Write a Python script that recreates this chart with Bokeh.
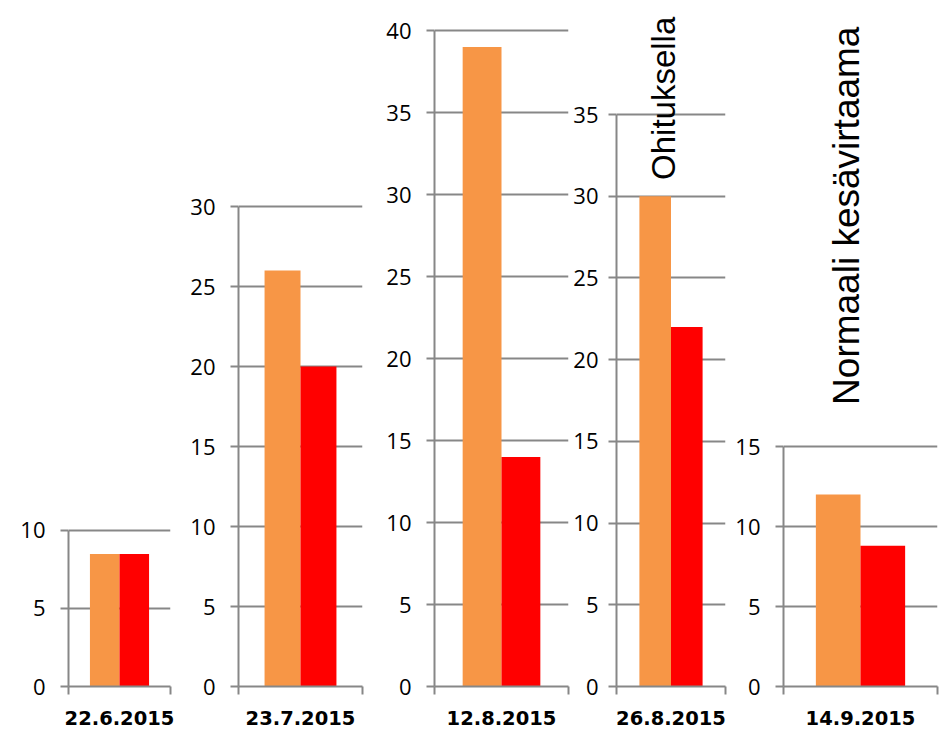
from bokeh.plotting import figure
from bokeh.models import Range1d, FixedTicker, ColumnDataSource
from bokeh.layouts import row
from bokeh.embed import file_html
from bokeh.resources import INLINE
from bokeh.core.properties import value
import math

# ---- data ----
dates = ["22.6.2015", "23.7.2015", "12.8.2015", "26.8.2015", "14.9.2015"]
series = ["sarja 1", "sarja 2"]
orange_vals = [8.5, 26, 39, 30, 12]
red_vals = [8.5, 20, 14, 22, 8.8]
axis_max = [10, 30, 40, 35, 15]
notes = ["", "", "", "Ohituksella", "Normaali kesävirtaama"]
note_y = [None, None, None, 31, 17.6]

# ---- styling / layout ----
colors = ["#F79646", "#FF0000"]
GRAY = "#878787"
view_top = [43.33, 42.25, 41.22, 41.37, 42.25]
border_left = [68, 62, 70, 44, 56]
border_right = [6, 2, 2, 2, 2]
frame_w = [102, 124, 134, 111, 154]
label_standoff = [15, 15, 15, 10, 15]
note_size = [None, None, None, "33px", "37px"]
PAD = 0.725
H = 734

slots = [k + 0.5 for k in range(len(series))]   # category slot centres
x_lo, x_hi = -PAD, len(series) + PAD

figs = []
for i, d in enumerate(dates):
    p = figure(
        width=border_left[i] + frame_w[i] + border_right[i], height=H,
        x_range=Range1d(x_lo, x_hi),
        y_range=Range1d(0, view_top[i]),
        x_axis_location="below", y_axis_location="left",
        title=None, toolbar_location=None, output_backend="svg",
        min_border_left=border_left[i], min_border_right=border_right[i],
        min_border_top=10, min_border_bottom=48,
    )
    p.outline_line_color = None
    p.background_fill_color = "white"
    p.border_fill_color = "white"

    src = ColumnDataSource(dict(x=slots, s=series,
                                v=[orange_vals[i], red_vals[i]], c=colors))
    p.vbar(x="x", top="v", width=1.0, fill_color="c", line_color=None, source=src)

    # y axis
    ya = p.yaxis[0]
    ya.ticker = FixedTicker(ticks=list(range(0, axis_max[i] + 1, 5)))
    ya.bounds = (0, axis_max[i])
    ya.axis_line_color = GRAY
    ya.axis_line_width = 2
    ya.major_tick_line_color = GRAY
    ya.major_tick_line_width = 2
    ya.major_tick_in = 0
    ya.major_tick_out = 8
    ya.minor_tick_line_color = None
    ya.major_label_standoff = label_standoff[i]
    ya.major_label_text_font = "Open Sans"
    ya.major_label_text_font_size = "22px"
    ya.major_label_text_color = "black"

    p.xgrid.visible = False
    p.ygrid.bounds = (0, axis_max[i])
    p.ygrid.grid_line_color = GRAY
    p.ygrid.grid_line_width = 2

    # x axis: edge ticks + date label
    xa = p.xaxis[0]
    xa.ticker = FixedTicker(ticks=[x_lo, x_hi])
    xa.axis_line_color = GRAY
    xa.axis_line_width = 2
    xa.major_tick_line_color = GRAY
    xa.major_tick_line_width = 2
    xa.major_tick_in = 0
    xa.major_tick_out = 8
    xa.minor_tick_line_color = None
    xa.major_label_text_alpha = 0
    xa.major_label_text_font_size = "1px"
    xa.major_label_standoff = 0
    xa.axis_label = d
    xa.axis_label_standoff = 16
    xa.axis_label_text_font = "DejaVu Sans"
    xa.axis_label_text_font_style = "bold"
    xa.axis_label_text_font_size = "19.5px"
    xa.axis_label_text_color = "black"

    if notes[i]:
        nsrc = ColumnDataSource(dict(x=[slots[0]], y=[note_y[i]], t=[notes[i]]))
        p.text(x="x", y="y", text="t", source=nsrc, angle=math.pi / 2,
               x_offset=8, text_align="left", text_baseline="middle",
               text_font=value("Liberation Sans"), text_font_size=note_size[i],
               text_color="black")
    figs.append(p)

layout = row(*figs)
open("out.html", "w").write(file_html(layout, INLINE))
